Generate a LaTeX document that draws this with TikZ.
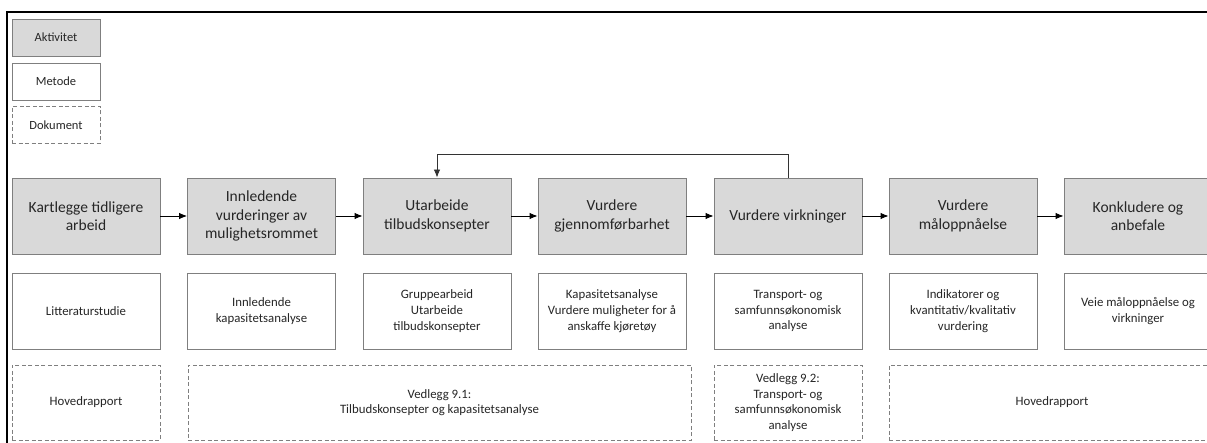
\documentclass[tikz,border=0pt]{standalone}
\usepackage{fontspec}
\setmainfont{Carlito}
\usetikzlibrary{arrows.meta}
\definecolor{boxfill}{HTML}{D9D9D9}
\definecolor{boxline}{HTML}{7F7F7F}
\definecolor{txt}{HTML}{262626}
\tikzset{
  base/.style={draw=boxline, line width=0.9pt, inner sep=0pt, text=txt, align=center},
  act/.style={base, fill=boxfill, minimum width=148pt, minimum height=76pt,
    font=\fontsize{15.5}{18.5}\selectfont},
  meth/.style={base, fill=white, minimum width=148pt, minimum height=76pt,
    font=\fontsize{12.8}{15.8}\selectfont},
  doc/.style={base, dash pattern=on 4pt off 2.5pt, minimum height=75pt,
    font=\fontsize{12.8}{15.6}\selectfont},
  leg/.style={base, minimum width=88pt, minimum height=37pt,
    font=\fontsize{12.5}{15}\selectfont},
  flow/.style={-{Latex[length=8pt,width=6.5pt]}, line width=0.9pt, black},
  fb/.style={-{Latex[length=8pt,width=6.5pt]}, line width=0.9pt, draw=black!80},
}
\begin{document}
\begin{tikzpicture}[x=1pt,y=-1pt]
\clip (0,0) rectangle (1207,443);
\fill[white] (0,0) rectangle (1207,443);
% frame
\draw[line width=2pt,black] (7,443) -- (7,12) -- (1210,12);
% legend
\node[leg, fill=boxfill] (la) at (56,37.5) {Aktivitet};
\node[leg, fill=white] (lm) at (56,81.5) {Metode};
\node[leg, dash pattern=on 4pt off 2.5pt] (ld) at (56,125) {Dokument};
% activities
\node[act] (b1) at (86,216) {Kartlegge tidligere\\arbeid};
\node[act] (b2) at (261.5,216) {Innledende\\vurderinger av\\mulighetsrommet};
\node[act] (b3) at (437,216) {Utarbeide\\tilbudskonsepter};
\node[act] (b4) at (612,216) {Vurdere\\gjennomførbarhet};
\node[act] (b5) at (788,216) {Vurdere virkninger};
\node[act] (b6) at (963,216) {Vurdere\\måloppnåelse};
\node[act] (b7) at (1138,216) {Konkludere og\\anbefale};
% methods
\node[meth] (m1) at (86,311) {Litteraturstudie};
\node[meth] (m2) at (261.5,311) {Innledende\\kapasitetsanalyse};
\node[meth] (m3) at (437,311) {Gruppearbeid\\Utarbeide\\tilbudskonsepter};
\node[meth] (m4) at (612,311) {Kapasitetsanalyse\\Vurdere muligheter for å\\anskaffe kjøretøy};
\node[meth] (m5) at (788,311) {Transport- og\\samfunnsøkonomisk\\analyse};
\node[meth] (m6) at (963,311) {Indikatorer og\\kvantitativ/kvalitativ\\vurdering};
\node[meth] (m7) at (1138,311) {Veie måloppnåelse og\\virkninger};
% documents
\node[doc, minimum width=148pt] (d1) at (86,402.5) {Hovedrapport};
\node[doc, minimum width=503pt] (d2) at (439.5,402.5) {Vedlegg 9.1:\\Tilbudskonsepter og kapasitetsanalyse};
\node[doc, minimum width=148pt] (d3) at (788,402.5) {Vedlegg 9.2:\\Transport- og\\samfunnsøkonomisk\\analyse};
\node[doc, minimum width=326pt] (d4) at (1052,402.5) {Hovedrapport};
% flow arrows
\draw[flow] (b1) -- (b2);
\draw[flow] (b2) -- (b3);
\draw[flow] (b3) -- (b4);
\draw[flow] (b4) -- (b5);
\draw[flow] (b5) -- (b6);
\draw[flow] (b6) -- (b7);
% feedback
\draw[fb] (b5.north) -- ++(0,-23) -| (b3.north);
\end{tikzpicture}
\end{document}
